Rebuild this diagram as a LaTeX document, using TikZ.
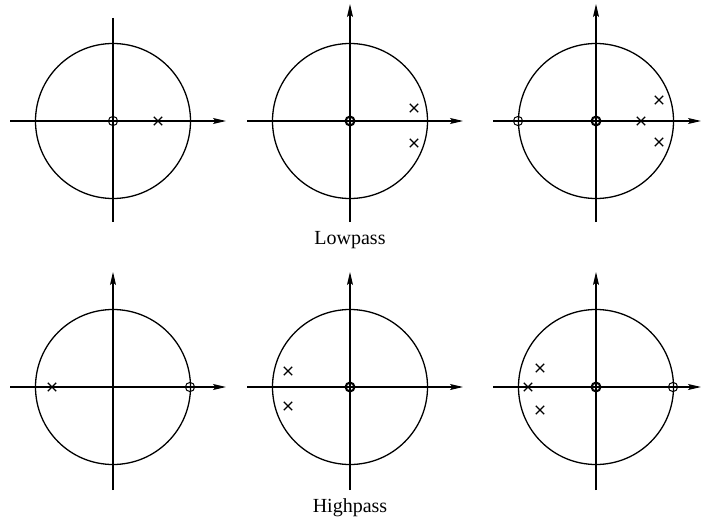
\documentclass[tikz,border=0pt]{standalone}
\usepackage{fontspec}
\setmainfont{Liberation Serif}
\usetikzlibrary{arrows.meta}
\tikzset{
  ax/.style={line width=1.2pt},
  axa/.style={line width=1.2pt,-{Stealth[length=13pt,width=6pt,inset=2.5pt]}},
  unitc/.style={line width=1.3pt},
  zthin/.style={line width=1pt},
  zthick/.style={line width=2.1pt},
  pole/.style={line width=1.1pt},
  lbl/.style={font=\fontsize{20}{24}\selectfont, inner sep=0pt}
}
\newcommand{\mypole}[2]{\draw[pole] (#1-4.2,#2-4.2) -- (#1+4.2,#2+4.2) (#1-4.2,#2+4.2) -- (#1+4.2,#2-4.2);}
\newcommand{\myzthin}[2]{\draw[zthin] (#1,#2) circle (4.6);}
\newcommand{\myzthick}[2]{\draw[zthick] (#1,#2) circle (4.4);}
\begin{document}
\begin{tikzpicture}[x=1pt,y=-1pt]
\useasboundingbox (0,0) rectangle (701,524);
% Panel 1
\coordinate (c1) at (113,121);
\draw[unitc] (c1) circle (77.5);
\draw[axa] (10,121) -- (226,121);
\draw[ax] (113,18) -- (113,222);
\myzthin{113}{121}
\mypole{158}{121}
% Panel 2
\coordinate (c2) at (350,121);
\draw[unitc] (c2) circle (77.5);
\draw[axa] (247,121) -- (463,121);
\draw[axa] (350,222) -- (350,4);
\myzthick{350}{121}
\mypole{414}{108}
\mypole{414}{143}
% Panel 3
\coordinate (c3) at (596,121);
\draw[unitc] (c3) circle (77.5);
\draw[axa] (493,121) -- (701,121);
\draw[axa] (596,222) -- (596,4);
\myzthick{596}{121}
\myzthin{518}{121}
\mypole{641}{121}
\mypole{659}{100}
\mypole{659}{142}
% Lowpass label
\node[lbl] (lp) at (350,240) {Lowpass};
% Panel 4
\coordinate (c4) at (113,387);
\draw[unitc] (c4) circle (77.5);
\draw[axa] (10,387) -- (226,387);
\draw[axa] (113,490) -- (113,272);
\myzthin{190}{387}
\mypole{52}{387}
% Panel 5
\coordinate (c5) at (350,387);
\draw[unitc] (c5) circle (77.5);
\draw[axa] (247,387) -- (463,387);
\draw[axa] (350,490) -- (350,272);
\myzthick{350}{387}
\mypole{288}{371}
\mypole{288}{406}
% Panel 6
\coordinate (c6) at (596,387);
\draw[unitc] (c6) circle (77.5);
\draw[axa] (493,387) -- (701,387);
\draw[axa] (596,490) -- (596,272);
\myzthick{596}{387}
\myzthin{673}{387}
\mypole{528}{387}
\mypole{540}{368}
\mypole{540}{410}
% Highpass label
\node[lbl] (hp) at (350,508) {Highpass};
\end{tikzpicture}
\end{document}
